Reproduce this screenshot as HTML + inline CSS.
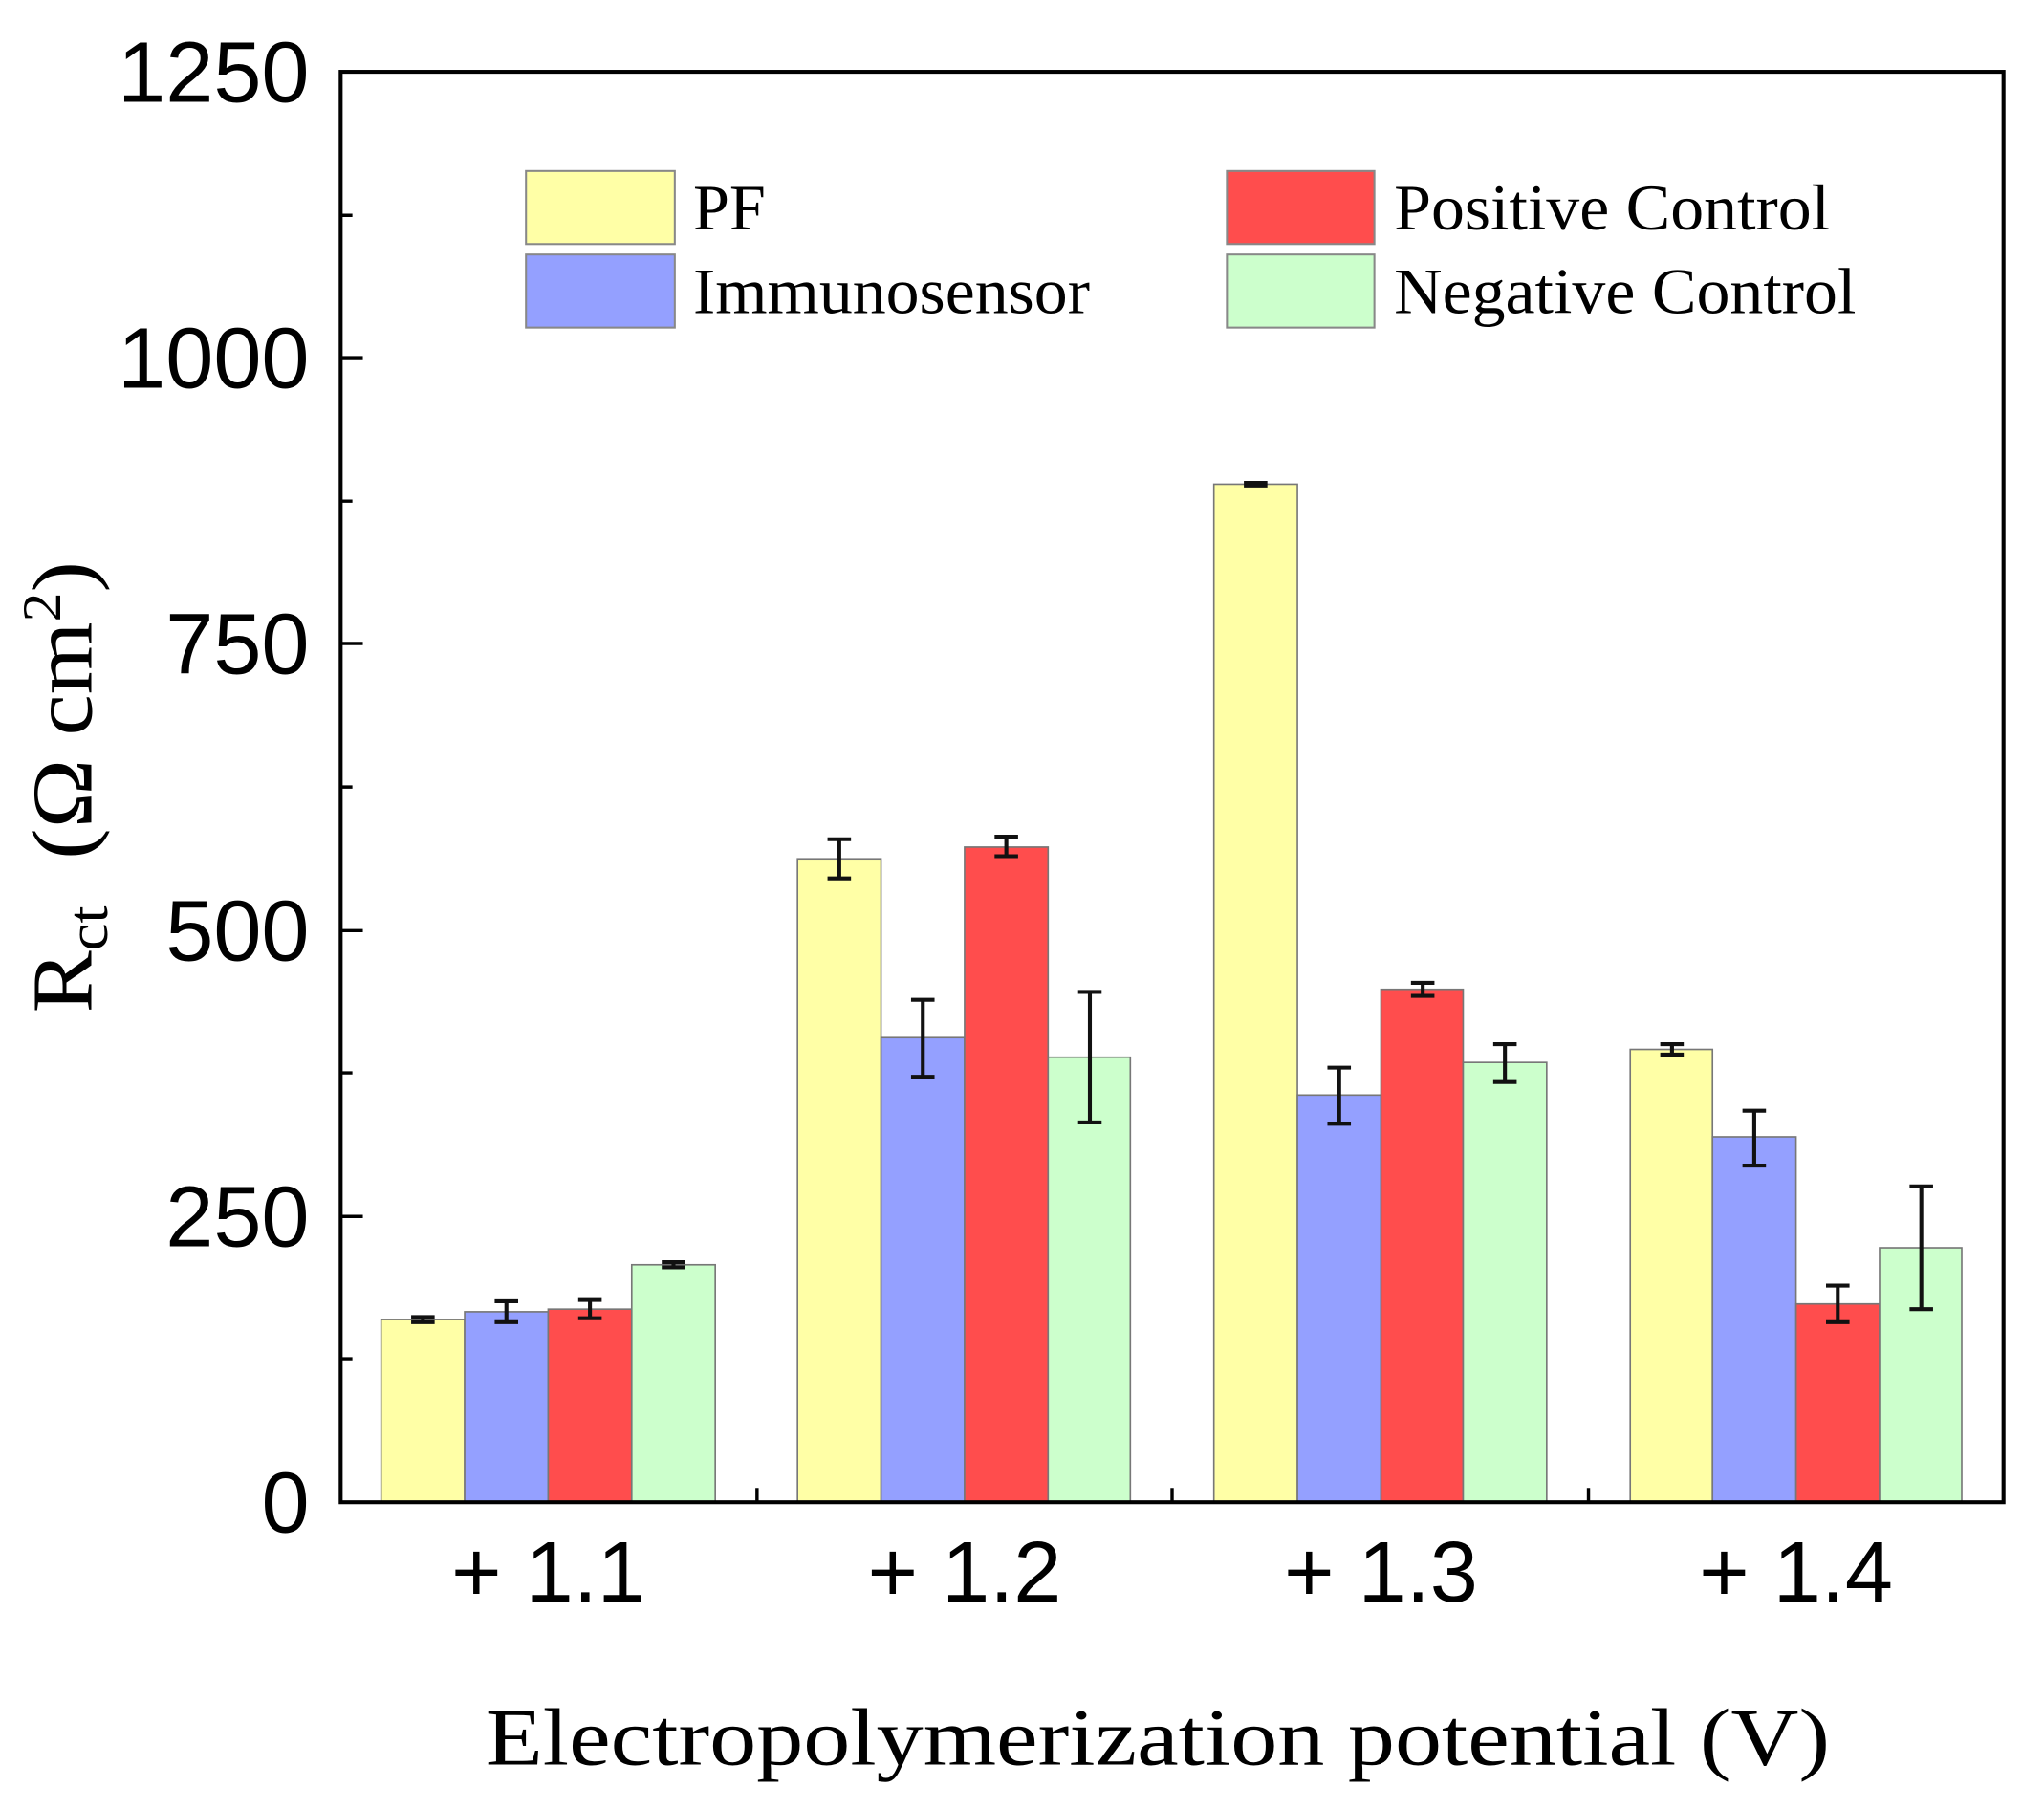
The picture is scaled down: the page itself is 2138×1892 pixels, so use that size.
<!DOCTYPE html>
<html><head><meta charset="utf-8"><style>html,body{margin:0;padding:0;background:#fff}svg{display:block}</style></head><body>
<svg width="2138" height="1892" viewBox="0 0 1566 1386" preserveAspectRatio="none" xmlns="http://www.w3.org/2000/svg">
<g stroke="#777" stroke-width="1.2">
<rect x="292" y="1011" width="64" height="140" fill="#ffffa6"/>
<rect x="356" y="1005" width="64" height="146" fill="#94a0ff"/>
<rect x="420" y="1003" width="64" height="148" fill="#ff4d4d"/>
<rect x="484" y="969" width="64" height="182" fill="#ccffcc"/>
<rect x="611" y="658" width="64" height="493" fill="#ffffa6"/>
<rect x="675" y="795" width="64" height="356" fill="#94a0ff"/>
<rect x="739" y="649" width="64" height="502" fill="#ff4d4d"/>
<rect x="803" y="810" width="63" height="341" fill="#ccffcc"/>
<rect x="930" y="371" width="64" height="780" fill="#ffffa6"/>
<rect x="994" y="839" width="64" height="312" fill="#94a0ff"/>
<rect x="1058" y="758" width="63" height="393" fill="#ff4d4d"/>
<rect x="1121" y="814" width="64" height="337" fill="#ccffcc"/>
<rect x="1249" y="804" width="63" height="347" fill="#ffffa6"/>
<rect x="1312" y="871" width="64" height="280" fill="#94a0ff"/>
<rect x="1376" y="999" width="64" height="152" fill="#ff4d4d"/>
<rect x="1440" y="956" width="63" height="195" fill="#ccffcc"/>
</g>
<g stroke="#111" stroke-width="3" fill="none">
<path d="M324 1009V1013M315 1009H333M315 1013H333"/>
<path d="M388 997V1013M379 997H397M379 1013H397"/>
<path d="M452 996V1010M443 996H461M443 1010H461"/>
<path d="M516 967V971M507 967H525M507 971H525"/>
<path d="M643 643V673M634 643H652M634 673H652"/>
<path d="M707 766V825M698 766H716M698 825H716"/>
<path d="M771 641V656M762 641H780M762 656H780"/>
<path d="M835 760V860M826 760H844M826 860H844"/>
<path d="M962 370V372M953 370H971M953 372H971"/>
<path d="M1026 818V861M1017 818H1035M1017 861H1035"/>
<path d="M1090 753V763M1081 753H1099M1081 763H1099"/>
<path d="M1153 800V829M1144 800H1162M1144 829H1162"/>
<path d="M1281 800V808M1272 800H1290M1272 808H1290"/>
<path d="M1344 851V893M1335 851H1353M1335 893H1353"/>
<path d="M1408 985V1013M1399 985H1417M1399 1013H1417"/>
<path d="M1472 909V1003M1463 909H1481M1463 1003H1481"/>
</g>
<rect x="261" y="55" width="1274" height="1096" fill="none" stroke="#000" stroke-width="3"/>
<g stroke="#000" stroke-width="2.5">
<path d="M261 932H278M261 713H278M261 493H278M261 274H278"/>
<path d="M261 1041H270M261 822H270M261 603H270M261 384H270M261 165H270"/>
<path d="M580 1151V1140M898 1151V1140M1217 1151V1140"/>
</g>
<g font-family="Liberation Sans, sans-serif" font-size="66" text-anchor="end" fill="#000">
<text x="237" y="1174">0</text>
<text x="237" y="955">250</text>
<text x="237" y="736">500</text>
<text x="237" y="516">750</text>
<text x="237" y="297">1000</text>
<text x="237" y="78">1250</text>
</g>
<g font-family="Liberation Sans, sans-serif" font-size="66" text-anchor="middle" fill="#000">
<text x="420" y="1227">+ 1.1</text>
<text x="739" y="1227">+ 1.2</text>
<text x="1058" y="1227">+ 1.3</text>
<text x="1376" y="1227">+ 1.4</text>
</g>
<text x="887" y="1352" font-family="Liberation Serif, serif" font-size="62" text-anchor="middle" textLength="1030" lengthAdjust="spacingAndGlyphs">Electropolymerization potential (V)</text>
<text transform="translate(70,776) rotate(-90)" font-family="Liberation Serif, serif" font-size="66" textLength="346" lengthAdjust="spacingAndGlyphs">R<tspan font-size="44" dy="12">ct</tspan><tspan dy="-12" xml:space="preserve">  (Ω cm</tspan><tspan font-size="42" dy="-24">2</tspan><tspan dy="24">)</tspan></text>
<g stroke="#888" stroke-width="1.5">
<rect x="403" y="131" width="114" height="56" fill="#ffffa6"/>
<rect x="403" y="195" width="114" height="56" fill="#94a0ff"/>
<rect x="940" y="131" width="113" height="56" fill="#ff4d4d"/>
<rect x="940" y="195" width="113" height="56" fill="#ccffcc"/>
</g>
<g font-family="Liberation Serif, serif" font-size="50" fill="#000">
<text x="531" y="176">PF</text>
<text x="531" y="240" textLength="304" lengthAdjust="spacingAndGlyphs">Immunosensor</text>
<text x="1068" y="176" textLength="334" lengthAdjust="spacingAndGlyphs">Positive Control</text>
<text x="1068" y="240" textLength="354" lengthAdjust="spacingAndGlyphs">Negative Control</text>
</g>
</svg>
</body></html>
